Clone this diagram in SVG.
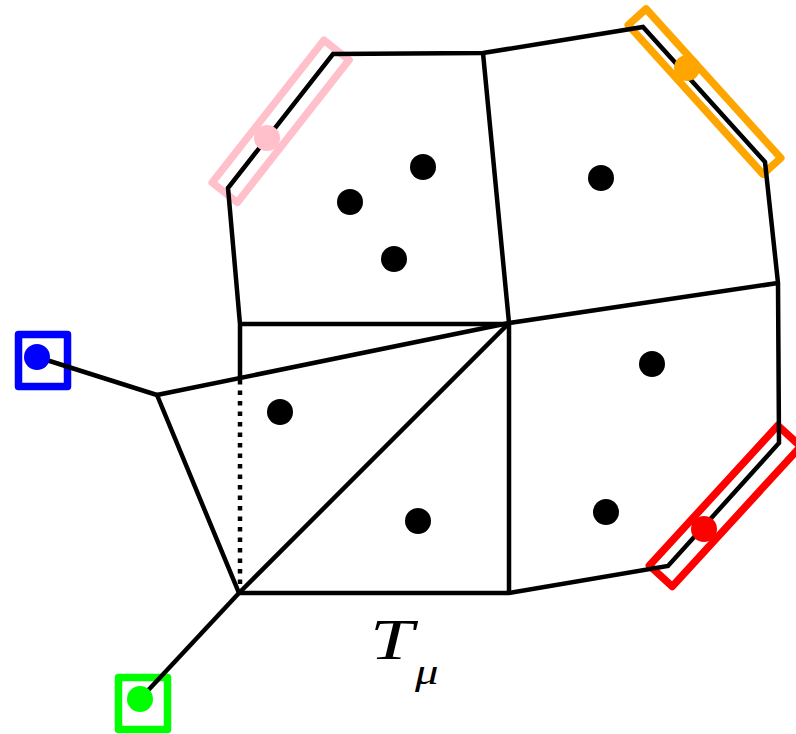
<svg xmlns="http://www.w3.org/2000/svg" width="796" height="734" viewBox="0 0 796 734">
  <style>
    .edge { fill: none; stroke: #000; stroke-width: 4.5; stroke-linejoin: miter; stroke-linecap: butt; }
    .dotted { fill: none; stroke: #000; stroke-width: 4.5; stroke-dasharray: 4.5 6; }
    .box { fill: none; stroke-width: 7.5; stroke-linejoin: round; }
    .pt { stroke: none; }
    .lbl { font-family: "Liberation Serif", "Times New Roman", serif; font-style: italic; fill: #000; }
  </style>
  <rect width="796" height="734" fill="#fff"/>

  <!-- highlight boxes (under lines) -->
  <g id="pink-box">
    <rect class="box" stroke="#ffc0cb" x="-90.5" y="-16" width="181" height="32" transform="translate(280.6 121.3) rotate(-51.9)"/>
  </g>
  <g id="orange-box">
    <rect class="box" stroke="#ffa500" x="-100.5" y="-12" width="201" height="24" transform="translate(704.5 91.5) rotate(47.9)"/>
  </g>
  <g id="red-box">
    <rect class="box" stroke="#ff0000" x="-95" y="-15.5" width="190" height="31" transform="translate(725 506) rotate(-47.5)"/>
  </g>
  <g id="blue-box">
    <rect class="box" stroke="#0000ff" x="18.5" y="334.5" width="49" height="52"/>
  </g>
  <g id="green-box">
    <rect class="box" stroke="#00ff00" x="118.5" y="677.5" width="49" height="52"/>
  </g>

  <!-- connectors / mesh edges -->
  <g id="edges">
    <path class="edge" d="M240 378 L240 324 L228 188 L333 54 L483 53 L643 27 L765 162 L778 283 L779 443 L668 566 L509 593 L239 593 L157 395 L509 323"/>
    <path class="edge" d="M240 324 L509 324"/>
    <path class="edge" d="M483 53 L509 323 L778 283"/>
    <path class="edge" d="M509 323 L509 593"/>
    <path class="edge" d="M239 593 L509 323"/>
    <path class="dotted" d="M240 380 L240 592"/>
    <path class="edge" d="M37 357 L157 395"/>
    <path class="edge" d="M140 699 L239 593"/>
  </g>

  <!-- interior points -->
  <g id="points">
    <circle class="pt" cx="423" cy="167" r="13" fill="#000"/>
    <circle class="pt" cx="350" cy="202" r="13" fill="#000"/>
    <circle class="pt" cx="394" cy="259" r="13" fill="#000"/>
    <circle class="pt" cx="601" cy="178" r="13" fill="#000"/>
    <circle class="pt" cx="280" cy="412" r="13" fill="#000"/>
    <circle class="pt" cx="418" cy="521" r="13" fill="#000"/>
    <circle class="pt" cx="652" cy="364" r="13" fill="#000"/>
    <circle class="pt" cx="606" cy="512" r="13" fill="#000"/>
  </g>

  <g id="pink-point"><circle class="pt" cx="267" cy="138" r="13" fill="#ffc0cb"/></g>
  <g id="orange-point"><circle class="pt" cx="687" cy="68" r="13" fill="#ffa500"/></g>
  <g id="red-point"><circle class="pt" cx="704" cy="529" r="13" fill="#ff0000"/></g>
  <g id="blue-point"><circle class="pt" cx="37" cy="357" r="13" fill="#0000ff"/></g>
  <g id="green-point"><circle class="pt" cx="140" cy="699" r="13" fill="#00ff00"/></g>

  <g id="label">
    <text class="lbl" font-size="58" transform="translate(370 659) scale(1.35 1)">T</text>
    <text class="lbl" font-size="36" transform="translate(415 684) scale(1.3 1)">μ</text>
  </g>
</svg>
